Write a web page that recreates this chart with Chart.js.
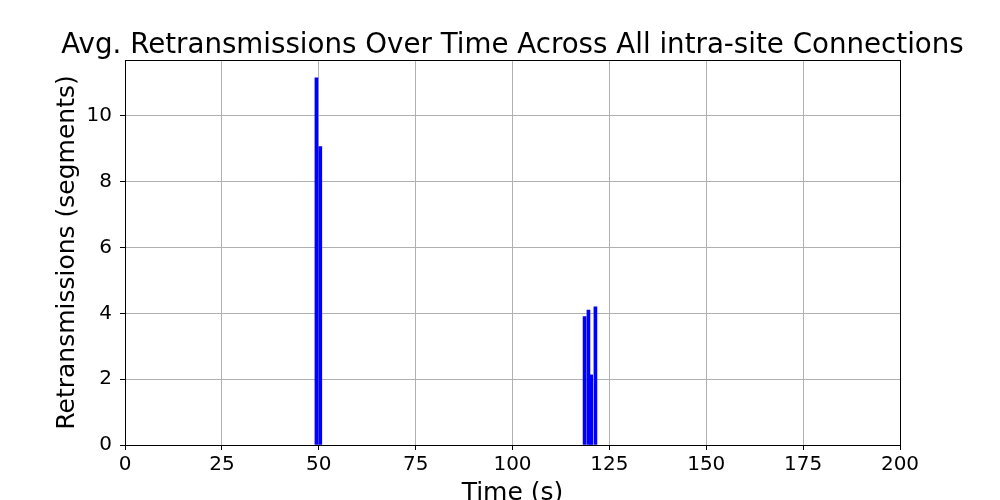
<!DOCTYPE html>
<html>
<head>
<meta charset="utf-8">
<script src="https://cdn.jsdelivr.net/npm/chart.js@4"></script>
<style>
  html, body { margin: 0; padding: 0; background: #fff; }
  #wrap { width: 1000px; height: 500px; }
</style>
</head>
<body>
<div id="wrap"><canvas id="chart" width="1000" height="500"></canvas></div>
<script>
// time of each bar (s) and avg retransmissions (segments)
const times = [49.4, 50.4, 118.6, 119.6, 120.3, 121.4];
const retrans = [11.16, 9.07, 3.90, 4.10, 2.13, 4.20];
const xTicks = [0, 25, 50, 75, 100, 125, 150, 175, 200];
const yTicks = [0, 2, 4, 6, 8, 10];

const TITLE = 'Avg. Retransmissions Over Time Across All intra-site Connections';
const FONT = 'DejaVu Sans';

// matplotlib-like box around the plot, title centred over the axes
const frame = {
    id: 'frame',
    afterDatasetsDraw(chart) {
        const { ctx, chartArea: a } = chart;
        ctx.save();
        ctx.strokeStyle = '#000';
        ctx.lineWidth = 1;
        ctx.strokeRect(a.left + 0.5, a.top + 0.5, a.right - a.left, a.bottom - a.top);
        ctx.fillStyle = '#000';
        ctx.font = '27.7px "' + FONT + '"';
        ctx.textAlign = 'center';
        ctx.textBaseline = 'alphabetic';
        ctx.fillText(TITLE, (a.left + a.right) / 2, a.top - 7);
        ctx.restore();
    }
};

function keepTicks(list) {
    return scale => { scale.ticks = list.map(v => ({ value: v })); };
}

new Chart(document.getElementById('chart'), {
    type: 'bar',
    data: {
        datasets: [{
            data: times.map((t, i) => ({ x: t, y: retrans[i] })),
            backgroundColor: '#0000ff',
            barThickness: 3
        }]
    },
    options: {
        responsive: false,
        animation: false,
        layout: { padding: { left: 0, right: 100, top: 60, bottom: 0 } },
        plugins: {
            legend: { display: false },
            tooltip: { enabled: false },
            title: { display: false }
        },
        scales: {
            x: {
                type: 'linear',
                min: 0,
                max: 200,
                offset: false,
                afterBuildTicks: keepTicks(xTicks),
                afterFit: s => { s.height = 55; },
                grid: { color: '#b0b0b0', offset: false, tickLength: 5, tickColor: '#000' },
                border: { color: '#000' },
                ticks: { color: '#000', font: { family: FONT, size: 20 }, padding: 3, maxRotation: 0 },
                title: {
                    display: true,
                    text: 'Time (s)',
                    color: '#000',
                    font: { family: FONT, size: 25 },
                    padding: { top: 0, bottom: -8 }
                }
            },
            y: {
                min: 0,
                max: 11.7,
                afterBuildTicks: keepTicks(yTicks),
                afterFit: s => { s.width = 125; },
                grid: { color: '#b0b0b0', tickLength: 5, tickColor: '#000' },
                border: { color: '#000' },
                ticks: { color: '#000', font: { family: FONT, size: 20 }, padding: 8 },
                title: {
                    display: true,
                    text: 'Retransmissions (segments)',
                    color: '#000',
                    font: { family: FONT, size: 25 },
                    padding: { top: 52, bottom: 0 }
                }
            }
        }
    },
    plugins: [frame]
});
</script>
</body>
</html>
